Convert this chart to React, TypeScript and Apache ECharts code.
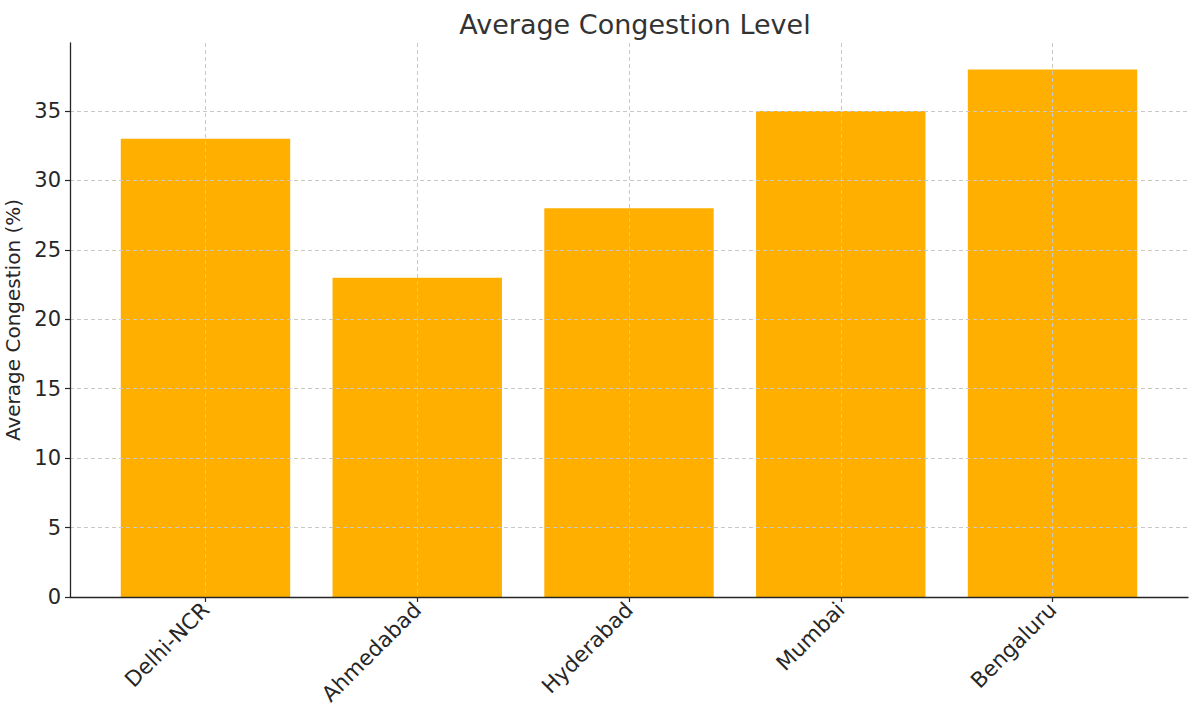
import React, { useEffect, useRef } from "react";
import * as echarts from "echarts";

const categories = ["Delhi-NCR", "Ahmedabad", "Hyderabad", "Mumbai", "Bengaluru"];
const congestion = [33, 23, 28, 35, 38];
const yTicks = [0, 5, 10, 15, 20, 25, 30, 35];

export default function App() {
  const ref = useRef<HTMLDivElement>(null);
  useEffect(() => {
    if (!ref.current) return;
    const chart = echarts.init(ref.current, null, { renderer: "svg" });
    const font = "DejaVu Sans";
    const textColor = "#262626";
    const splitStyle = { color: "#c8c8c8", type: [4, 3] as any, width: 1 };
    const yMax = 39.9;
    const band = (1158.4 - 99.6) / categories.length;
    chart.setOption({
      animation: false,
      backgroundColor: "#ffffff",
      title: {
        text: "Average Congestion Level",
        left: 630,
        textAlign: "center",
        top: 6,
        textStyle: { fontFamily: font, fontSize: 27, fontWeight: "normal", color: "#333333" },
      },
      grid: [
        { left: 70, right: 12, top: 43, bottom: 119, outerBoundsMode: "none", containLabel: false },
        { left: 99.6, right: 41.6, top: 43, bottom: 119, outerBoundsMode: "none", containLabel: false },
        {
          left: 99.6 + band / 2,
          right: 41.6 + band / 2,
          top: 43,
          bottom: 119,
          outerBoundsMode: "none",
          containLabel: false,
        },
      ],
      xAxis: [
        {
          gridIndex: 0,
          type: "value",
          min: 0,
          max: 1,
          axisLine: { show: true, lineStyle: { color: textColor, width: 1.3 } },
          axisTick: { show: false },
          axisLabel: { show: false },
          splitLine: { show: false },
          z: 6,
        },
        {
          gridIndex: 1,
          type: "category",
          data: categories,
          axisLine: { show: false },
          axisTick: { show: true, alignWithLabel: true, length: 5, lineStyle: { color: textColor, width: 1.2 } },
          axisLabel: {
            rotate: 45,
            fontFamily: font,
            fontSize: 21.5,
            color: textColor,
            margin: 9,
            interval: 0,
          },
          splitLine: { show: false },
          z: 5,
        },
        {
          gridIndex: 2,
          type: "category",
          data: categories,
          boundaryGap: false,
          axisLine: { show: false },
          axisTick: { show: false },
          axisLabel: { show: false },
          splitLine: { show: true, interval: 0, lineStyle: splitStyle },
          z: 5,
        },
      ],
      yAxis: [
        {
          gridIndex: 0,
          type: "value",
          min: 0,
          max: yMax,
          interval: 5,
          name: "Average Congestion (%)",
          nameLocation: "middle",
          nameGap: 38,
          nameTextStyle: { fontFamily: font, fontSize: 20, color: textColor },
          axisLine: { show: true, lineStyle: { color: textColor, width: 1.3 } },
          axisTick: { show: true, length: 5, lineStyle: { color: textColor, width: 1.2 } },
          axisLabel: {
            fontFamily: font,
            fontSize: 21,
            color: textColor,
            margin: 9,
            showMaxLabel: false,
            formatter: (v: number) => (yTicks.includes(v) ? String(v) : ""),
          },
          splitLine: { show: true, showMaxLine: false, showMinLine: false, lineStyle: splitStyle },
          z: 5,
        },
        {
          gridIndex: 1,
          type: "value",
          min: 0,
          max: yMax,
          show: false,
        },
        {
          gridIndex: 2,
          type: "value",
          min: 0,
          max: yMax,
          show: false,
        },
      ],
      series: [
        {
          type: "bar",
          xAxisIndex: 1,
          yAxisIndex: 1,
          data: congestion,
          barWidth: "80%",
          itemStyle: { color: "#FFAF00" },
          z: 2,
        },
      ],
    });
    return () => chart.dispose();
  }, []);
  return <div ref={ref} style={{ width: 1200, height: 716, position: "absolute", left: 0, top: 0 }} />;
}
